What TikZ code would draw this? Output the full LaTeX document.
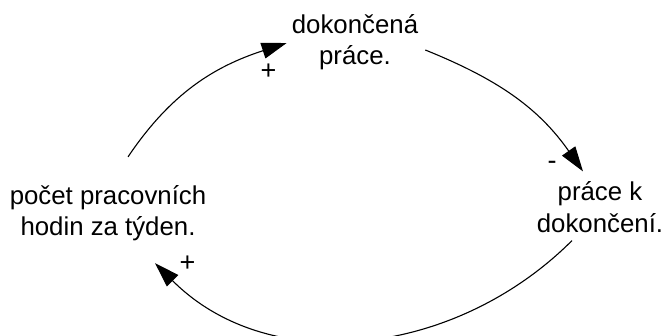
\documentclass[tikz,border=0pt]{standalone}
\usepackage{fontspec}
\setmainfont{Liberation Sans}
\usepackage{tikz}
\usetikzlibrary{calc}
\usetikzlibrary{arrows.meta}

\begin{document}
\begin{tikzpicture}[x = 1pt, y = 1pt]

\tikzstyle{vertex_v}=[align = center, inner sep = 0pt, font = \fontsize{25.8}{31.5}\selectfont]
\tikzstyle{sign_v}=[inner sep = 0pt, font = \fontsize{27}{30}\selectfont]
\tikzstyle{link_v}=[-{Triangle[length = 25pt, width = 16pt]}, line width = 1.1pt, color = black]

\useasboundingbox (0, 0) rectangle (667, 335);

\coordinate (W) at (355, 293);
\coordinate (R) at (600, 128);
\coordinate (H) at (108, 122);

\path
($(W)$) node[vertex_v](done) {dokončená\\práce.}
($(R)$) node[vertex_v](todo) {práce k\\dokončení.}
($(H)$) node[vertex_v](hours) {počet pracovních\\hodin za týden.};

\path
(268.5, 263.5) node[sign_v](s1) {+}
(552, 170) node[sign_v](s2) {-}
(187.5, 71) node[sign_v](s3) {+};

%loop arrows
\draw[link_v] ($(hours.north) + (20, 28)$) to [out=56,in=198] ($(done.west) + (-5, -1)$);
\draw[link_v] ($(done.east) + (7, -8)$) to [out=-22,in=125] ($(todo.north) + (-17, 10)$);
\draw[link_v] ($(todo.south) + (-28, -8)$) to [out=225,in=-45] ($(hours.south) + (47, -22)$);

\end{tikzpicture}
\end{document}
